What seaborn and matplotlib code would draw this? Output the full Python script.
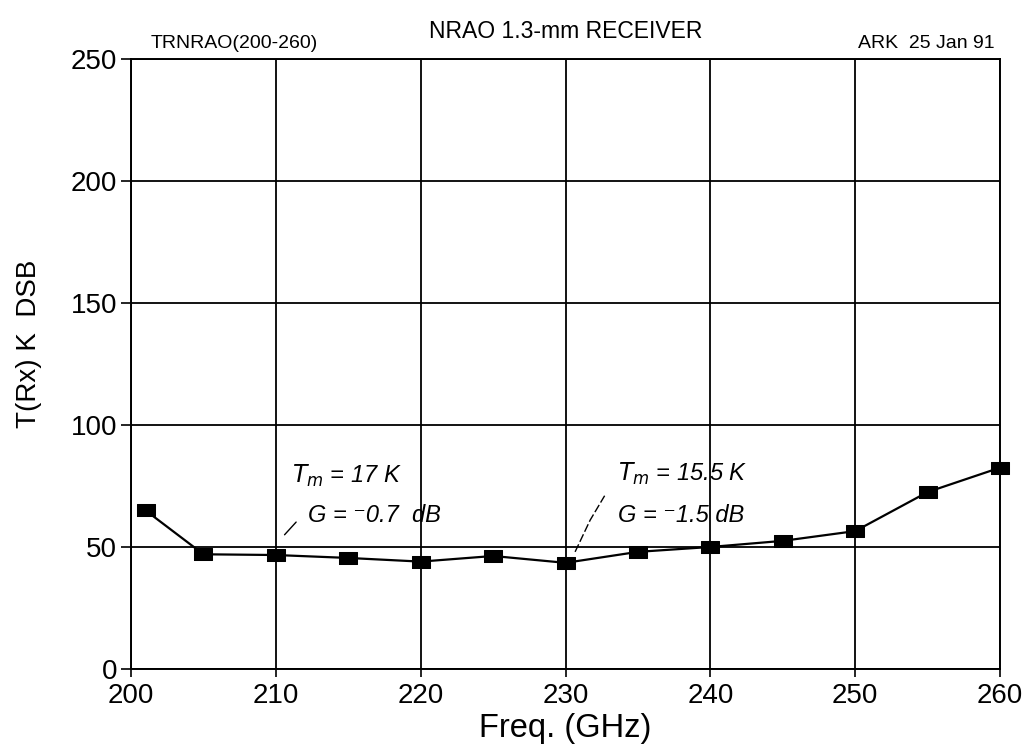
import matplotlib
matplotlib.use("Agg")
import matplotlib.pyplot as plt
import seaborn as sns
import pandas as pd

freq_ghz = [201, 205, 210, 215, 220, 225, 230, 235, 240, 245, 250, 255, 260]
trx_k = [65, 47, 46.7, 45.5, 44, 46.3, 43.5, 48, 50, 52.5, 56.5, 72.5, 82.5]
x_ticks = [200, 210, 220, 230, 240, 250, 260]
y_ticks = [0, 50, 100, 150, 200, 250]

sns.set_theme(style="white")
plt.rcParams['font.family'] = ['Liberation Sans', 'DejaVu Sans']

df = pd.DataFrame({"freq": freq_ghz, "trx": trx_k})

fig = plt.figure(figsize=(10.26, 7.56), dpi=100)
ax = fig.add_axes([0.1277, 0.1151, 0.847, 0.807])

rect_marker = [(-8, -5.5), (8, -5.5), (8, 5.5), (-8, 5.5), (-8, -5.5)]
sns.lineplot(data=df, x="freq", y="trx", ax=ax, color="black", linewidth=1.6,
             marker=rect_marker, markersize=12.5, markeredgecolor="black",
             markerfacecolor="black")
for ln in ax.lines:
    ln.set_clip_on(False)
    ln.set_zorder(5)

ax.set_xlim(200, 260)
ax.set_ylim(0, 250)
ax.set_xticks(x_ticks)
ax.set_yticks(y_ticks)
ax.grid(True, color="black", linewidth=1.3)
for s in ax.spines.values():
    s.set_color("black")
    s.set_linewidth(1.4)
ax.tick_params(axis="both", labelsize=20, colors="black", length=7,
               width=1.2, direction="out", left=True, bottom=True, pad=3)
ax.tick_params(axis="x", length=6, pad=4)
ax.set_xlabel("Freq. (GHz)", fontsize=23.5, color="black", labelpad=3)
ax.set_ylabel("T(Rx) K  DSB", fontsize=20, color="black")
ax.yaxis.set_label_coords(-0.102, 0.533)

fig.text(0.551, 0.958, "NRAO 1.3-mm RECEIVER", ha="center", va="center",
         fontsize=16.5, color="black")
ax.text(0.022, 1.012, "TRNRAO(200-260)", transform=ax.transAxes, ha="left",
        va="bottom", fontsize=14, color="black")
ax.text(0.994, 1.012, "ARK  25 Jan 91", transform=ax.transAxes, ha="right",
        va="bottom", fontsize=14, color="black")

# handwritten annotations
hand = dict(fontsize=17, style="italic", color="black", va="center",
            ha="left", fontweight="light")
ax.text(211.1, 79, r"$T_m$ = 17 K", **hand)
ax.text(212.2, 62.7, "G = \u207b0.7  dB", **hand)
ax.plot([210.6, 211.4], [55, 60.2], color="black", linewidth=1)
ax.text(233.6, 80, r"$T_m$ = 15.5 K", **hand)
ax.text(233.6, 62.7, "G = \u207b1.5 dB", **hand)
ax.plot([230.66, 231.7, 232.7], [48, 61, 71], color="black", linewidth=1,
        linestyle=(0, (6, 2)))

fig.savefig("out.png", dpi=100, facecolor="white")
